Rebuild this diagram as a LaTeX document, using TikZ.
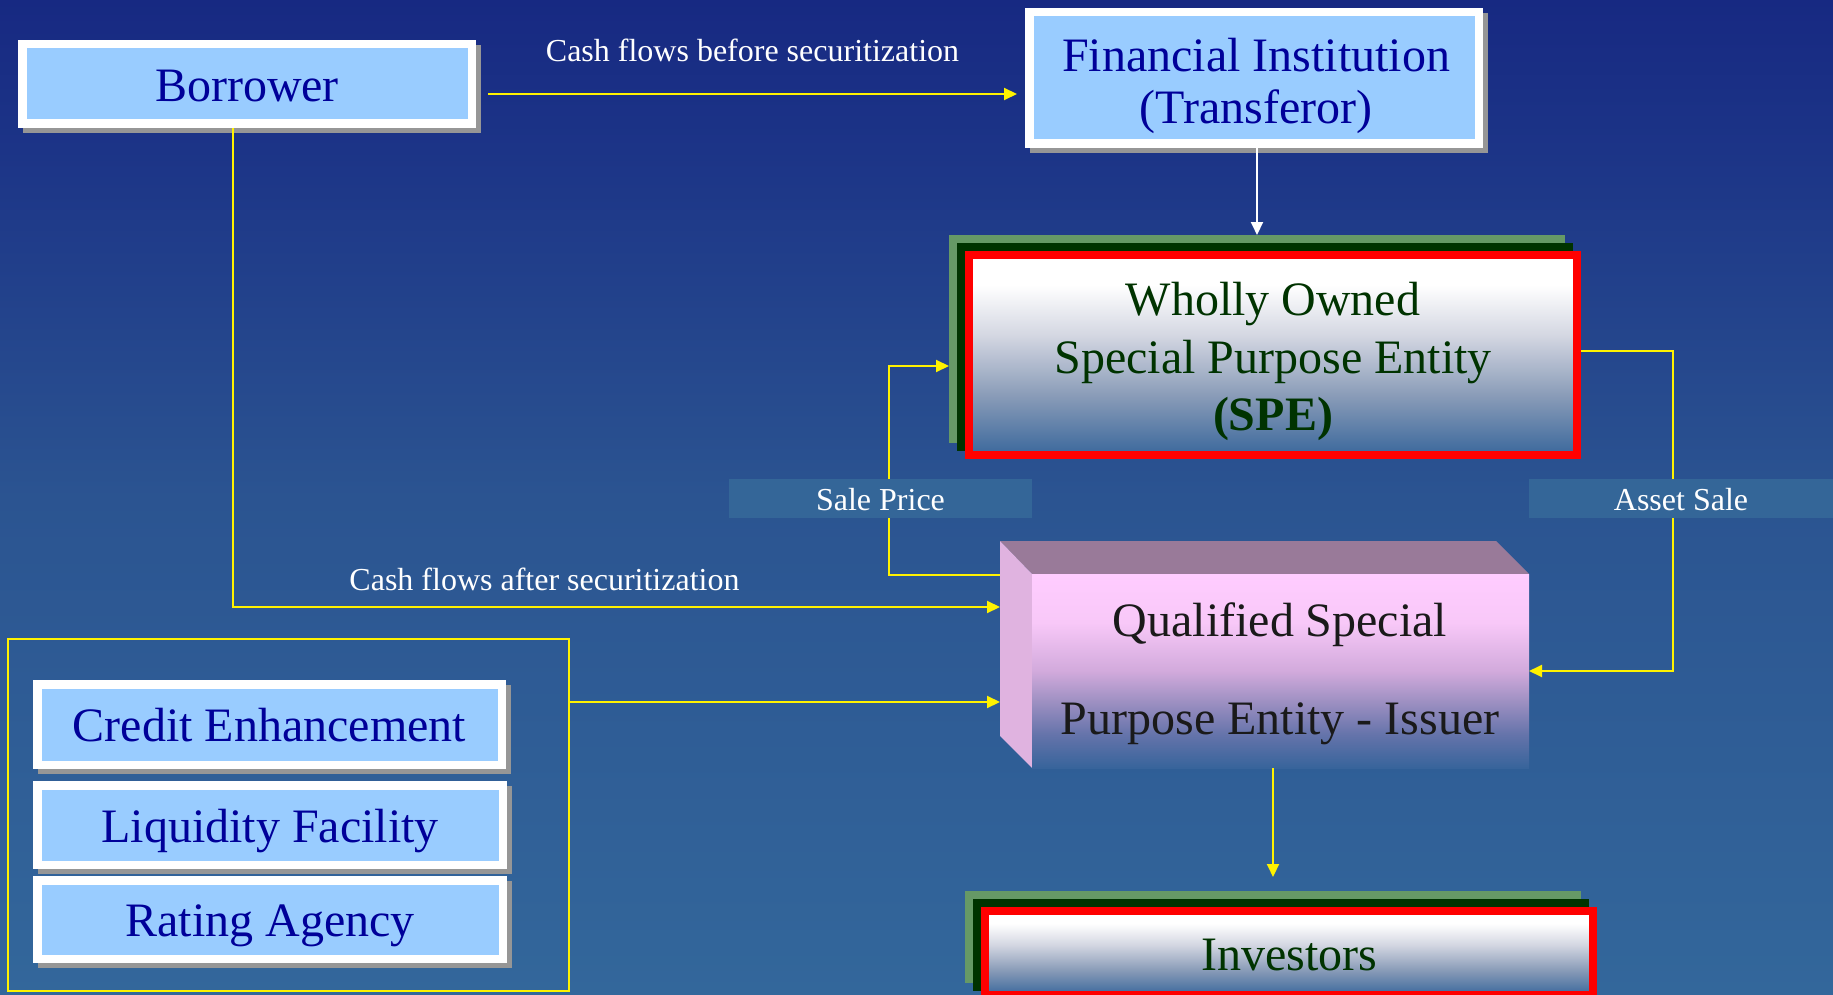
\documentclass[tikz,border=0pt]{standalone}
\usepackage{fontspec}
\setmainfont{Liberation Serif}
\usetikzlibrary{arrows.meta}
\definecolor{bgtop}{RGB}{23,41,130}
\definecolor{bgup}{RGB}{28,52,135}
\definecolor{bgmid}{RGB}{43,84,145}
\definecolor{bgbot}{RGB}{51,103,155}
\definecolor{lblue}{RGB}{153,204,255}
\definecolor{dblue}{RGB}{0,0,153}
\definecolor{shgray}{RGB}{150,150,150}
\definecolor{spegreen}{RGB}{0,51,0}
\definecolor{lgreen}{RGB}{102,153,102}
\definecolor{dgreen}{RGB}{0,51,0}
\definecolor{labelbg}{RGB}{52,102,152}
\definecolor{cubetop}{RGB}{153,122,153}
\definecolor{cubeleft}{RGB}{224,179,224}
\definecolor{qtext}{RGB}{26,26,26}
\definecolor{sA}{RGB}{59,104,156}
\definecolor{sB}{RGB}{138,156,184}
\definecolor{sC}{RGB}{212,215,226}
\definecolor{qA}{RGB}{55,100,155}
\definecolor{qB}{RGB}{100,115,170}
\definecolor{qC}{RGB}{160,145,195}
\definecolor{qD}{RGB}{210,170,220}
\definecolor{qE}{RGB}{248,200,248}
\definecolor{qF}{RGB}{255,204,255}
% TikZ maps the path onto the 25bp..75bp band of a 100bp shading
\pgfdeclareverticalshading{bgshade}{100bp}{color(0bp)=(bgbot); color(25bp)=(bgbot); color(50bp)=(bgmid); color(67.5bp)=(bgup); color(75bp)=(bgtop); color(100bp)=(bgtop)}
\pgfdeclareverticalshading{speshade}{100bp}{color(0bp)=(sA); color(25bp)=(sA); color(40bp)=(sB); color(55bp)=(sC); color(67.5bp)=(white); color(100bp)=(white)}
\pgfdeclareverticalshading{qshade}{100bp}{color(0bp)=(qA); color(25bp)=(qA); color(33.5bp)=(qB); color(42.5bp)=(qC); color(50bp)=(qD); color(62.5bp)=(qE); color(75bp)=(qF); color(100bp)=(qF)}
\tikzset{
  yarrow/.style={draw=yellow, line width=2pt, -{Triangle[length=13pt,width=12pt]}},
  warrow/.style={draw=white, line width=2pt, -{Triangle[length=13pt,width=12pt]}},
  wframe/.style={draw=white, line width=8.5pt, fill=lblue, text=dblue,
    font=\fontsize{48}{52}\selectfont, text height=34pt, text depth=0pt, inner sep=0pt},
  layer/.style={inner sep=0pt, outer sep=0pt, minimum width=616pt},
  redbox/.style={draw=red, line width=8pt, shade, shading=speshade, inner sep=0pt, minimum width=608pt},
  lbl/.style={text=white, font=\fontsize{32}{36}\selectfont, inner sep=0pt, text height=22pt, text depth=0pt},
  lblbox/.style={lbl, fill=labelbg, minimum height=39pt, text height=23pt},
  bigtxt/.style={inner sep=0pt, align=center, anchor=north},
}
\begin{document}
\begin{tikzpicture}[x=1pt,y=-1pt]
\useasboundingbox (0,0) rectangle (1833,995);
\clip (0,0) rectangle (1833,995);
\shade[shading=bgshade] (0,0) rectangle (1833,995);

% Borrower
\fill[shgray] (23,45) rectangle (481,133);
\node[wframe, minimum width=449.5pt, minimum height=79.5pt, text height=36pt] (borrower) at (247,84) {Borrower};

% Financial institution
\fill[shgray] (1030,13) rectangle (1488,153);
\node[wframe, minimum width=449.5pt, minimum height=131.5pt] (fi) at (1254,78) {};
\node[bigtxt, text=dblue, font=\fontsize{48}{52}\selectfont] (fitext) at (1256,38) {Financial Institution\\(Transferor)};

% SPE
\node[layer, fill=lgreen, minimum height=208pt] (speg) at (1257,339) {};
\node[layer, fill=dgreen, minimum height=208pt] (sped) at (1265,347) {};
\node[redbox, minimum height=200pt] (spe) at (1273,355) {};
\node[bigtxt, text=spegreen, font=\fontsize{48}{57.5}\selectfont] (spetext) at (1273,282.2) {Wholly Owned\\Special Purpose Entity\\\textbf{(SPE)}};

% Investors
\node[layer, fill=lgreen, minimum height=92pt] (invg) at (1273,937) {};
\node[layer, fill=dgreen, minimum height=92pt] (invd) at (1281,945) {};
\node[redbox, minimum height=84pt, text=spegreen, font=\fontsize{48}{52}\selectfont, text height=34pt, text depth=0pt] (inv) at (1289,953) {Investors};

% QSPE cube
\node[inner sep=0pt, outer sep=0pt, minimum width=529pt, minimum height=227pt] (qspe) at (1264.5,654.5) {};
\fill[cubetop] (1000,541) -- (1496,541) -- (1529,574) -- (1032,574) -- cycle;
\fill[cubeleft] (1000,541) -- (1032,574) -- (1032,768) -- (1000,736) -- cycle;
\shade[shading=qshade] (1032,574) rectangle (1529,768);
\node[bigtxt, text=qtext, font=\fontsize{48}{98}\selectfont] (qtext) at (1280,602.2) {Qualified Special\\Purpose Entity - Issuer};

% Enhancement group
\node[draw=yellow, line width=2pt, inner sep=0pt, minimum width=561pt, minimum height=352pt] (grp) at (288.5,815) {};
\fill[shgray] (38,685) rectangle (511,774);
\node[wframe, minimum width=464.5pt, minimum height=80.5pt] (credit) at (269.5,724.5) {Credit Enhancement};
\fill[shgray] (38,786) rectangle (512,874);
\node[wframe, minimum width=465.5pt, minimum height=79.5pt] (liq) at (270,825) {Liquidity Facility};
\fill[shgray] (38,881) rectangle (512,968);
\node[wframe, minimum width=465.5pt, minimum height=78.5pt] (rating) at (270,919.5) {Rating Agency};

% Connectors
\draw[yarrow, shorten <=12pt, shorten >=8pt] (borrower.east |- 0,94) -- (fi.west |- 0,94);
\draw[warrow] (fi.south -| 1257,0) -- (speg.north -| 1257,0);
\draw[yarrow] (borrower.south -| 233,0) |- (qspe.west |- 0,607);
\draw[yarrow] (grp.east |- 0,702) -- (qspe.west |- 0,702);
\draw[yarrow] (qspe.west |- 0,575) -- ++(-111,0) |- (speg.west |- 0,366);
\draw[yarrow] (spe.east |- 0,351) -- ++(92,0) |- (qspe.east |- 0,671);
\draw[yarrow, shorten >=14pt] (qspe.south -| 1273,0) -- (invg.north -| 1273,0);

% Labels
\node[lbl] (cfb) at (752.5,51) {Cash flows before securitization};
\node[lbl] (cfa) at (544.5,579) {Cash flows after securitization};
\node[lblbox, minimum width=303pt] (saleprice) at (880.5,498.5) {Sale Price};
\node[lblbox, minimum width=304pt] (assetsale) at (1681,498.5) {Asset Sale};
\end{tikzpicture}
\end{document}
